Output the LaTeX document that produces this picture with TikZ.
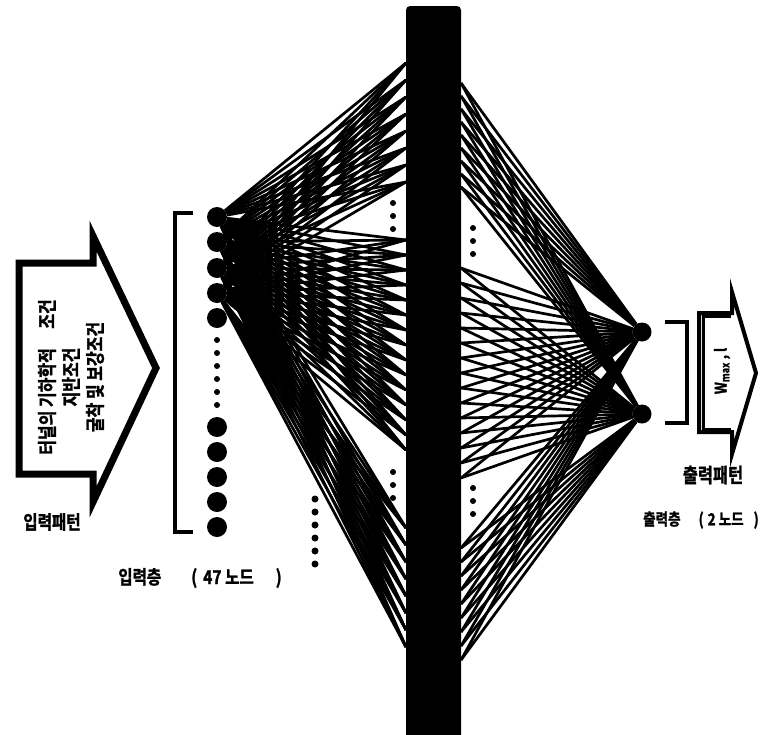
\documentclass[tikz,border=0pt]{standalone}
\usepackage{fontspec}
\usetikzlibrary{calc}
\newfontfamily\krfont{Noto Sans CJK KR}[UprightFont=* Bold, FakeStretch=0.82, FakeBold=1.5]

\begin{document}
\begin{tikzpicture}[x=1pt, y=-1pt,
  unit/.style={circle, fill=black, inner sep=0pt, minimum size=20pt},
  outunit/.style={circle, fill=black, inner sep=0pt, minimum size=19pt},
  link/.style={line width=2.7pt},
  bracket/.style={line width=3.5pt},
  laytext/.style={font=\krfont\fontsize{19}{19}\selectfont, inner sep=0pt}]

\useasboundingbox (0,0) rectangle (766,734);

% Input arrow
\draw[line width=7pt, miter limit=20] (19,263) -- (93,263) -- (93,236) -- (156,368) -- (93,502) -- (93,474) -- (19,474) -- cycle;
\node[rotate=90, align=center, inner sep=0pt, font=\krfont\fontsize{19.5}{24}\selectfont] (inlabel) at (71,377)
  {터널의 기하학적\quad 조건\\지반조건\\굴착 및 보강조건};
\node[laytext] (inpattern) at (52,522) {입력패턴};

% Input layer
\foreach \y [count=\i] in {217,242,268,293,318,427,452,477,502,527}
  \node[unit] (in\i) at (217,\y) {};
\foreach \y in {340,353,...,405}
  \fill (217,\y) circle (3pt);
\draw[bracket] (193,213) -- (175,213) -- (175,532) -- (193,532);
\node[laytext] (inlayer) at (200,578) {입력층\hspace{30pt}(\hspace{6pt}47 노드\hspace{22pt})};
\foreach \y in {499,512,...,564}
  \fill (315,\y) circle (3.5pt);

% Hidden layer (left and right sides of the column)
\foreach \y [count=\k] in {63,80,...,182, 240,255,...,450, 528,545,...,647}
  \coordinate (hl-\k) at (406,\y);
\foreach \y [count=\k] in {83,96,...,187, 268,283,...,478, 548,562,...,660}
  \coordinate (hr-\k) at (461,\y);

% Output layer
\node[outunit] (out1) at (642,332) {};
\node[outunit] (out2) at (642,414) {};

% Weights input -> hidden
\foreach \i in {1,...,4}
  \foreach \k in {1,...,31}
    \draw[link] (in\i) -- (hl-\k);

% Weights hidden -> output
\foreach \k in {1,...,33} {
  \draw[link] (hr-\k) -- (out1);
  \draw[link] (hr-\k) -- (out2);
}

% Hidden column
\fill[rounded corners=4pt] (406,6) rectangle (461,750);
\foreach \y in {203,216,229,472,485,498}
  \fill (393,\y) circle (3pt);
\foreach \y in {228,241,254,488,501,514}
  \fill (473,\y) circle (3pt);

% Output bracket and arrow
\draw[bracket] (665,322) -- (687,322) -- (687,423) -- (665,423);
\draw[line width=4pt, miter limit=20] (699,313) -- (732,313) -- (732,292) -- (756,373) -- (732,454) -- (732,432) -- (699,432) -- cycle;
\draw[line width=3pt] (731,316.5) -- (703,316.5) -- (703,429) -- (731,429);
\node[rotate=90, inner sep=0pt, font=\krfont\fontsize{16}{16}\selectfont] (outlabel) at (722,371) {W\textsubscript{max} , l};
\node[laytext, font=\krfont\fontsize{20}{20}\selectfont] (outpattern) at (713,475) {출력패턴};
\node[laytext, font=\krfont\fontsize{16.5}{16.5}\selectfont] (outlayer) at (701,520) {출력층\hspace{18pt}(\hspace{4pt}2 노드\hspace{10pt})};

\end{tikzpicture}
\end{document}
